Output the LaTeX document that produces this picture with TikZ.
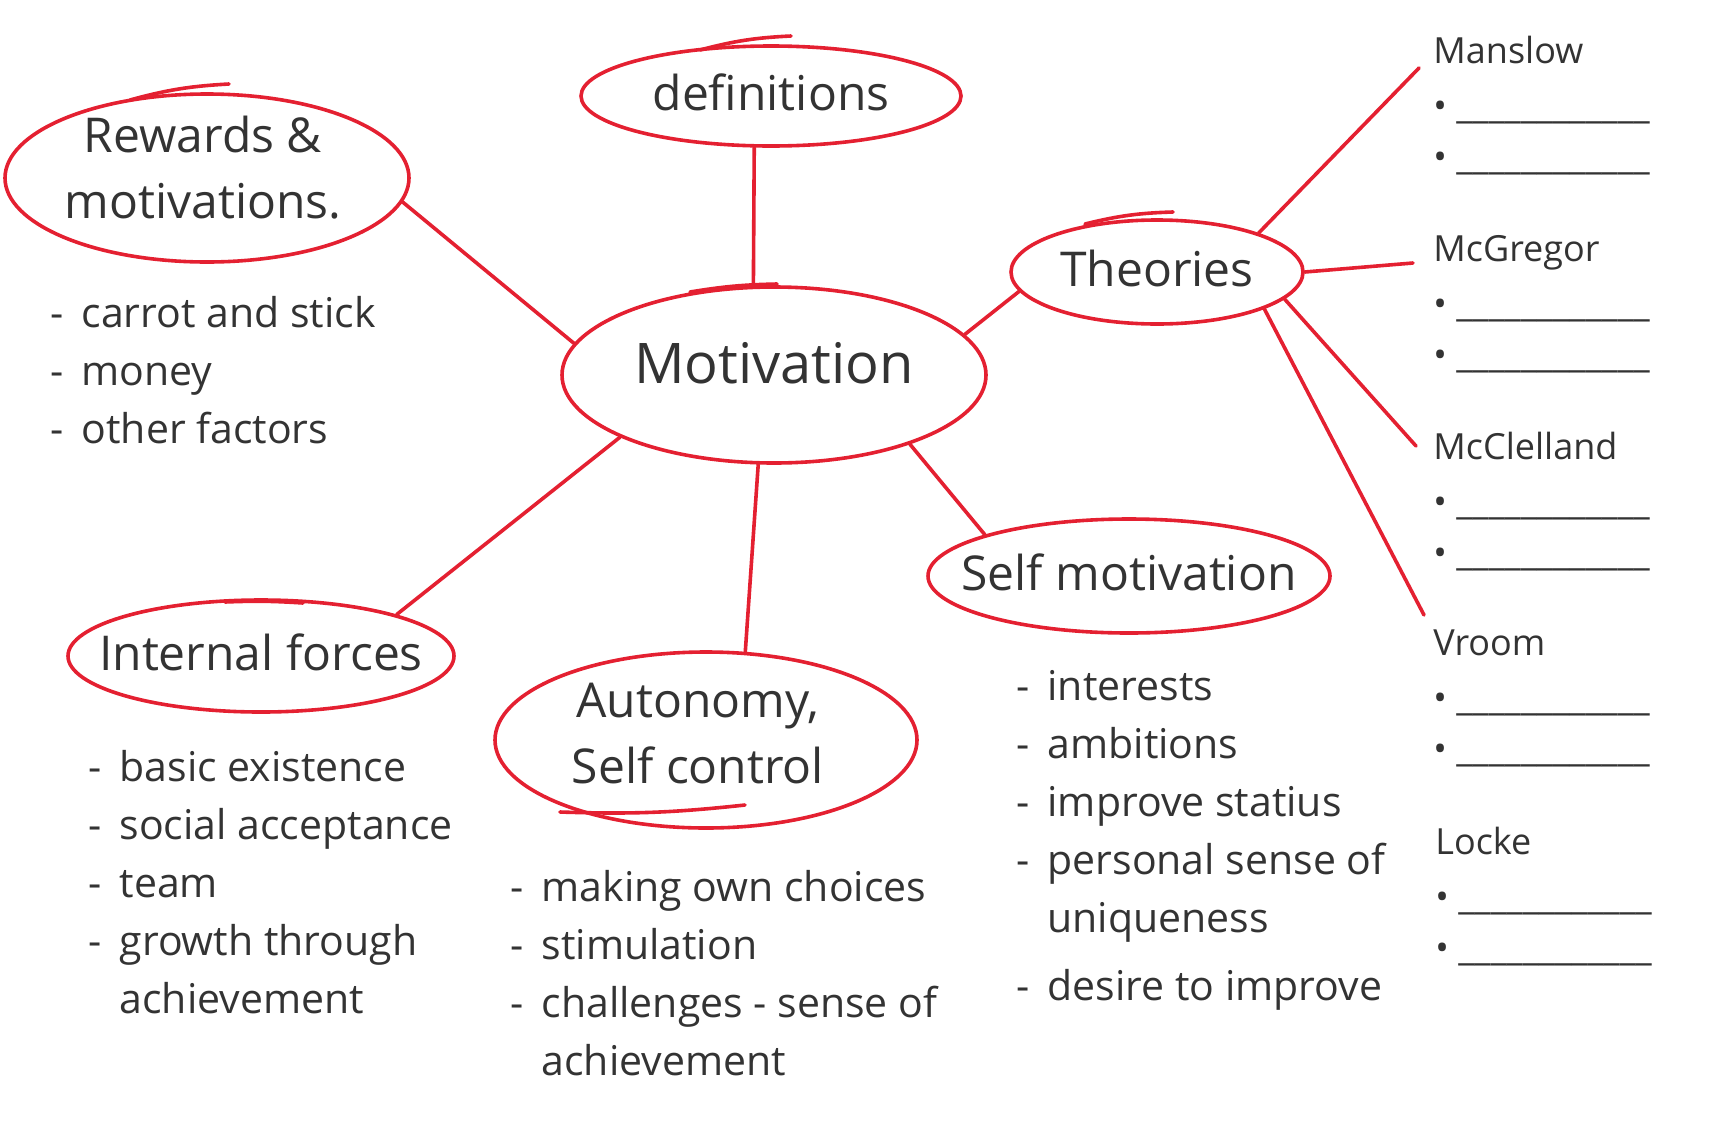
\documentclass[tikz,border=0pt]{standalone}
\usepackage{fontspec}
\setmainfont{Open Sans}
\usepackage{xcolor}
\usepackage{tikz}
\usetikzlibrary{shapes.geometric}

\definecolor{mred}{HTML}{E42031}
\definecolor{ink}{HTML}{333333}
\newcommand{\gapline}{\_\_\_\_\_\_\_\_\_\_\_\_}

\begin{document}
\begin{tikzpicture}[
        x=0.5pt, y=-0.5pt,
        pen/.style={draw=mred, line width=1.8pt, line cap=round},
        bubble/.style={ellipse, pen, inner sep=0pt},
        title/.style={text=ink, font=\fontsize{24}{33}\selectfont, align=center, yshift=2pt},
        bigtitle/.style={text=ink, font=\fontsize{28}{34}\selectfont},
        itemlist/.style={text=ink, font=\fontsize{20.5}{29}\selectfont, inner sep=0pt, anchor=base west},
        theory/.style={text=ink, font=\fontsize{18}{25.5}\selectfont, inner sep=0pt, anchor=base west},
      ]
      \useasboundingbox (0,0) rectangle (1728,1130);

      % Bubbles
      \node[bubble, minimum width=212pt, minimum height=88pt,
            label={[bigtitle, yshift=6pt]center:Motivation}]                 (mot)  at (774,375) {};
      \node[bubble, minimum width=190pt, minimum height=50pt,
            label={[title]center:definitions}]                               (def)  at (771,96)  {};
      \node[bubble, minimum width=202pt, minimum height=84pt,
            label={[title, yshift=3pt, xshift=-2pt]center:Rewards \&\\motivations.}] (rw) at (207,178) {};
      \node[bubble, minimum width=146pt, minimum height=52pt,
            label={[title]center:Theories}]                                  (th)   at (1157,272) {};
      \node[bubble, minimum width=201pt, minimum height=57pt,
            label={[title]center:Self motivation}]                           (self) at (1129,576) {};
      \node[bubble, minimum width=193pt, minimum height=56pt,
            label={[title]center:Internal forces}]                           (int)  at (261,656) {};
      \node[bubble, minimum width=211pt, minimum height=88pt,
            label={[title, yshift=1pt, xshift=-4pt]center:Autonomy,\\Self control}]  (aut) at (706,740) {};

      % Overlapping pen strokes
      \draw[pen] (130,100) to[bend left=6] (229,84);
      \draw[pen] (700,50) to[bend left=6] (791,36);
      \draw[pen] (690,292) to[bend left=4] (777,284);
      \draw[pen] (1085,224) to[bend left=6] (1173,212);
      \draw[pen] (225,602) to[bend left=3] (303,603);
      \draw[pen] (560,812) to[bend right=4] (745,805);

      % Branches
      \draw[pen] (rw.-7) -- (mot.171);
      \draw[pen] (def.-108) -- (mot.103);
      \draw[pen] (mot.12) -- (th.188);
      \draw[pen] (mot.202) -- (int.17);
      \draw[pen] (mot.260) -- (aut.66);
      \draw[pen] (mot.-27) -- (self.164);

      % Lists
      \node[itemlist] (rwlist) at (50,327) {\begin{tabular}[t]{@{}l@{\hspace{9pt}}l@{}}
        - & carrot and stick\\ - & money\\ - & other factors\end{tabular}};
      \node[itemlist] (intlist) at (88,781) {\begin{tabular}[t]{@{}l@{\hspace{9pt}}l@{}}
        - & basic existence\\ - & social acceptance\\ - & team\\
        - & growth through\\ & achievement\end{tabular}};
      \node[itemlist] (autlist) at (510,901) {\begin{tabular}[t]{@{}l@{\hspace{9pt}}l@{}}
        - & making own choices\\ - & stimulation\\ - & challenges - sense of\\
        & achievement\end{tabular}};
      \node[itemlist] (selflist) at (1016,700) {\begin{tabular}[t]{@{}l@{\hspace{9pt}}l@{}}
        - & interests\\ - & ambitions\\ - & improve statius\\
        - & personal sense of\\ & uniqueness\\[5pt] - & desire to improve\end{tabular}};

      % Theories
      \node[theory] (manslow) at (1433,63) {\begin{tabular}[t]{@{}l@{}}
        Manslow\\[2pt] \textbullet\ \gapline\\ \textbullet\ \gapline\end{tabular}};
      \node[theory] (mcgregor) at (1433,261) {\begin{tabular}[t]{@{}l@{}}
        McGregor\\[2pt] \textbullet\ \gapline\\ \textbullet\ \gapline\end{tabular}};
      \node[theory] (mcclelland) at (1433,459) {\begin{tabular}[t]{@{}l@{}}
        McClelland\\[2pt] \textbullet\ \gapline\\ \textbullet\ \gapline\end{tabular}};
      \node[theory] (vroom) at (1433,655) {\begin{tabular}[t]{@{}l@{}}
        Vroom\\[2pt] \textbullet\ \gapline\\ \textbullet\ \gapline\end{tabular}};
      \node[theory] (locke) at (1435,854) {\begin{tabular}[t]{@{}l@{}}
        Locke\\[2pt] \textbullet\ \gapline\\ \textbullet\ \gapline\end{tabular}};

      \coordinate (manslow-end)    at (1419,68);
      \coordinate (mcgregor-end)   at (1413,263);
      \coordinate (mcclelland-end) at (1416,446);
      \coordinate (vroom-end)      at (1424,615);

      \draw[pen] (th.21) -- (manslow-end);
      \draw[pen] (th.east) -- (mcgregor-end);
      \draw[pen] (th.-12) -- (mcclelland-end);
      \draw[pen] (th.-19) -- (vroom-end);

    \end{tikzpicture}
\end{document}
